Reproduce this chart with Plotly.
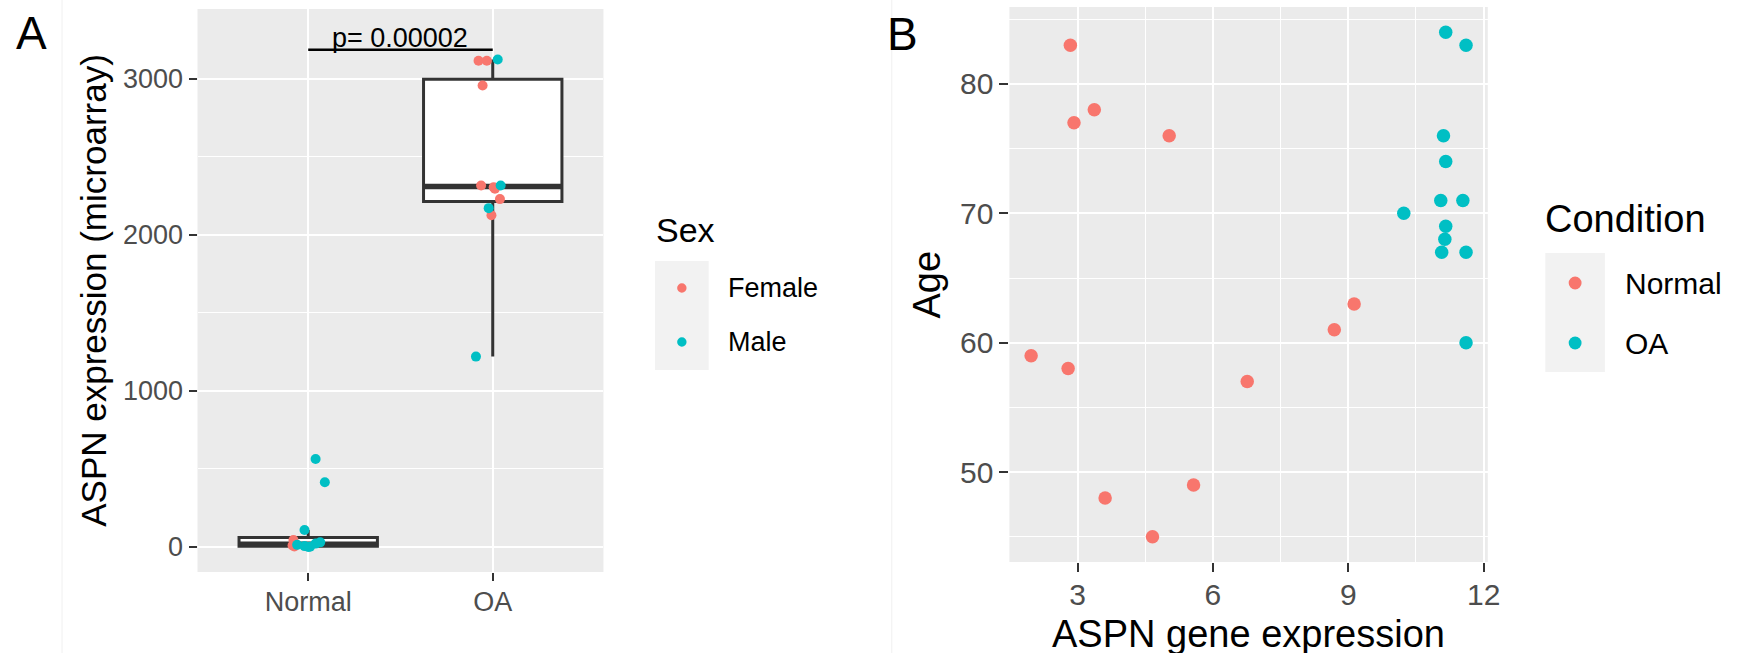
import numpy as np
import plotly.graph_objects as go

W, H = 1737, 653
FONT = "Liberation Sans, Arial, Helvetica, sans-serif"
RED, CYAN = "#F8766D", "#00BFC4"
BOXLINE = "#333333"
TICKCOL = "#4D4D4D"

# ---------------- Panel A data ----------------
groups = ["Normal", "OA"]
normal_female = [45, 10, 4]
normal_female_jit = [-0.08, -0.085, -0.075]
normal_male = [564, 415, 109, 30, 2, 6, 14, 22, 0]
normal_male_jit = [0.04, 0.09, -0.02, 0.065, 0.01, -0.02, -0.06, 0.04, 0.0]
oa_female = [3115, 3115, 2957, 2316, 2295, 2229, 2126, 2305]
oa_female_jit = [-0.077, -0.032, -0.055, -0.063, 0.012, 0.039, -0.007, 0.005]
oa_male = [3124, 2316, 2171, 1220]
oa_male_jit = [0.027, 0.043, -0.022, -0.091]
p_label = "p= 0.00002"
p_y = 3186
a_yticks = [0, 1000, 2000, 3000]
sex_levels = ["Female", "Male"]

# ---------------- Panel B data ----------------
normal_expr = [2.84, 2.92, 3.37, 5.03, 1.97, 2.79, 3.61, 4.66, 5.57, 6.76, 8.69, 9.13]
normal_age = [83, 77, 78, 76, 59, 58, 48, 45, 49, 57, 61, 63]
oa_expr = [11.16, 11.61, 11.11, 11.16, 11.05, 11.54, 10.23, 11.16, 11.14, 11.07, 11.61, 11.61]
oa_age = [84, 83, 76, 74, 71, 71, 70, 69, 68, 67, 67, 60]
b_xticks = [3, 6, 9, 12]
b_yticks = [50, 60, 70, 80]
condition_levels = ["Normal", "OA"]


def px(x):
    return x / W


def py(y):
    return 1 - y / H


fig = go.Figure()

# ---- Panel A: boxes ----
group_vals = [normal_female + normal_male, oa_female + oa_male]
for i, vals in enumerate(group_vals):
    v = np.array(vals, dtype=float)
    q1, med, q3 = np.percentile(v, [25, 50, 75])
    iqr = q3 - q1
    lo = v[v >= q1 - 1.5 * iqr].min()
    hi = v[v <= q3 + 1.5 * iqr].max()
    fig.add_trace(go.Box(
        x=[i], q1=[q1], median=[med], q3=[q3], lowerfence=[lo], upperfence=[hi],
        width=0.75, fillcolor="white", line=dict(color=BOXLINE, width=3),
        whiskerwidth=0, boxpoints=False, showlegend=False, hoverinfo="skip",
        xaxis="x", yaxis="y"))
    fig.add_trace(go.Scatter(
        x=[i - 0.375, i + 0.375], y=[med, med], mode="lines",
        line=dict(color=BOXLINE, width=5.5), showlegend=False, hoverinfo="skip",
        xaxis="x", yaxis="y"))

# ---- Panel A: jittered points ----
pts = [
    (0, normal_female, normal_female_jit, RED),
    (0, normal_male, normal_male_jit, CYAN),
    (1, oa_female, oa_female_jit, RED),
    (1, oa_male, oa_male_jit, CYAN),
]
for gi, vals, jit, col in pts:
    fig.add_trace(go.Scatter(
        x=[gi + j for j in jit], y=vals, mode="markers",
        marker=dict(color=col, size=10), showlegend=False,
        xaxis="x", yaxis="y"))

# ---- Panel B: scatter ----
fig.add_trace(go.Scatter(x=normal_expr, y=normal_age, mode="markers",
                         marker=dict(color=RED, size=13.5), showlegend=False,
                         xaxis="x2", yaxis="y2"))
fig.add_trace(go.Scatter(x=oa_expr, y=oa_age, mode="markers",
                         marker=dict(color=CYAN, size=13.5), showlegend=False,
                         xaxis="x2", yaxis="y2"))

# ranges for panel B with ggplot-like 5% expansion
allx = normal_expr + oa_expr
ally = normal_age + oa_age
dx = (max(allx) - min(allx)) * 0.05
dy = (max(ally) - min(ally)) * 0.05
bx_range = [min(allx) - dx, max(allx) + dx]
by_range = [min(ally) - dy, max(ally) + dy]

common_axis = dict(showline=False, zeroline=False, ticks="outside",
                   tickcolor=BOXLINE, tickwidth=2.2, gridcolor="white")

fig.update_layout(
    width=W, height=H, margin=dict(l=0, r=0, t=0, b=0),
    paper_bgcolor="white", plot_bgcolor="#EBEBEB",
    font=dict(family=FONT, color="black"),
    xaxis=dict(domain=[px(199), px(608)], anchor="y", range=[-0.6, 1.6],
               tickvals=[0, 1], ticktext=groups, gridwidth=2.2, ticklen=8,
               ticklabelstandoff=-2,
               tickfont=dict(size=27, color=TICKCOL, family=FONT), **common_axis),
    yaxis=dict(domain=[py(572), py(9)], anchor="x", range=[-160, 3447],
               tickvals=a_yticks, gridwidth=2.2, ticklen=8,
               minor=dict(dtick=500, tick0=500, showgrid=True, gridcolor="white", gridwidth=1.1, ticks=""),
               tickfont=dict(size=27, color=TICKCOL, family=FONT), **common_axis),
    xaxis2=dict(domain=[px(1017), px(1499)], anchor="y2", range=bx_range,
                tickvals=b_xticks, gridwidth=2.4, ticklen=9,
                ticklabelstandoff=-3,
                minor=dict(dtick=1.5, tick0=1.5, showgrid=True, gridcolor="white", gridwidth=1.2, ticks=""),
                tickfont=dict(size=30, color=TICKCOL, family=FONT), **common_axis),
    yaxis2=dict(domain=[py(562), py(7)], anchor="x2", range=by_range,
                tickvals=b_yticks, gridwidth=2.4, ticklen=9,
                minor=dict(dtick=5, tick0=45, showgrid=True, gridcolor="white", gridwidth=1.2, ticks=""),
                tickfont=dict(size=30, color=TICKCOL, family=FONT), **common_axis),
)

shapes = []
annotations = []

# faint panel separators
for sx in (62.5, 898.5):
    shapes.append(dict(type="line", xref="paper", yref="paper", x0=px(sx), x1=px(sx),
                       y0=0, y1=1, line=dict(color="#F0F0F0", width=1), layer="below"))

# p-value bracket
shapes.append(dict(type="line", xref="x", yref="y", x0=0, x1=1, y0=p_y, y1=p_y,
                   line=dict(color="black", width=2.7)))
annotations.append(dict(xref="x", yref="y", x=0.5, y=p_y, yanchor="bottom", yshift=-4,
                        text=p_label, showarrow=False, borderpad=0,
                        font=dict(size=27, color="black", family=FONT)))

# panel tags
annotations.append(dict(xref="paper", yref="paper", x=px(31.5), y=py(33), text="A",
                        showarrow=False, font=dict(size=46, color="black", family=FONT),
                        xanchor="center", yanchor="middle", borderpad=0))
annotations.append(dict(xref="paper", yref="paper", x=px(909.5), y=py(34), text="B",
                        showarrow=False, font=dict(size=46, color="black", family=FONT),
                        xanchor="center", yanchor="middle", borderpad=0))

# axis titles
annotations.append(dict(xref="paper", yref="paper", x=px(94), y=py(290.5),
                        text="ASPN expression (microarray)", textangle=-90, showarrow=False,
                        font=dict(size=35, color="black", family=FONT),
                        xanchor="center", yanchor="middle", borderpad=0))
annotations.append(dict(xref="paper", yref="paper", x=px(933), y=py(284.5),
                        text="Age", textangle=-90, showarrow=False,
                        font=dict(size=38, color="black", family=FONT),
                        xanchor="center", yanchor="middle", borderpad=0))
annotations.append(dict(xref="paper", yref="paper", x=px(1258), y=py(634),
                        text="ASPN gene expression", showarrow=False,
                        font=dict(size=38, color="black", family=FONT),
                        xanchor="center", yanchor="middle", borderpad=0))


def add_legend(title, labels, colors, title_x, title_y, title_size, key_x0, key_x1,
               key_y0, key_y1, dot_ys, dot_d, text_x, text_size):
    shapes.append(dict(type="rect", xref="paper", yref="paper", x0=px(key_x0), x1=px(key_x1),
                       y0=py(key_y1), y1=py(key_y0), fillcolor="#F2F2F2",
                       line=dict(width=0), layer="below"))
    annotations.append(dict(xref="paper", yref="paper", x=px(title_x), y=py(title_y),
                            text=title, showarrow=False, xanchor="left", yanchor="middle",
                            borderpad=0, font=dict(size=title_size, color="black", family=FONT)))
    cx = (key_x0 + key_x1) / 2
    for lab, col, dyv in zip(labels, colors, dot_ys):
        r = dot_d / 2
        shapes.append(dict(type="circle", xref="paper", yref="paper",
                           x0=px(cx - r), x1=px(cx + r), y0=py(dyv + r), y1=py(dyv - r),
                           fillcolor=col, line=dict(width=0)))
        annotations.append(dict(xref="paper", yref="paper", x=px(text_x), y=py(dyv),
                                text=lab, showarrow=False, xanchor="left", yanchor="middle",
                                borderpad=0, font=dict(size=text_size, color="black", family=FONT)))


add_legend("Sex", sex_levels, [RED, CYAN], 660, 229.5, 34, 660, 714, 261, 370,
           [288, 342], 9.5, 732, 27)
add_legend("Condition", condition_levels, [RED, CYAN], 1556, 218.5, 38, 1557, 1617, 253, 372,
           [283, 343], 13, 1636, 30)

fig.update_layout(shapes=shapes, annotations=annotations)
fig.write_html("out.html")
